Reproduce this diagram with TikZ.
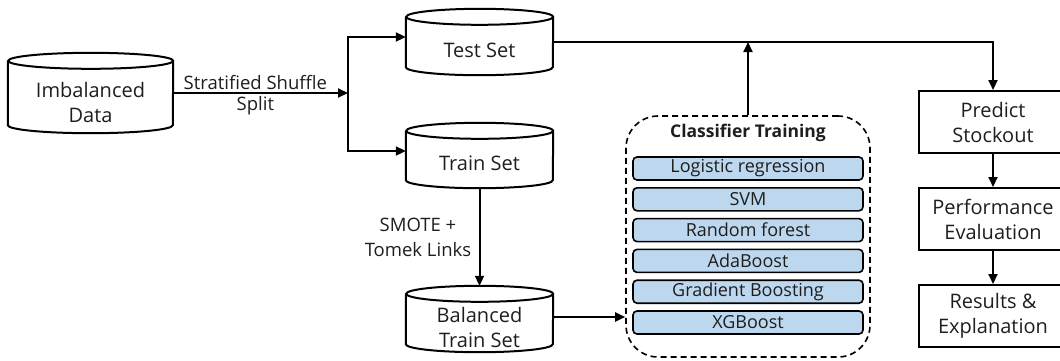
\documentclass[tikz,border=0pt]{standalone}
\usepackage{fontspec}
\setmainfont{Open Sans}
\usetikzlibrary{arrows.meta,calc}
\definecolor{barblue}{HTML}{BDD7EE}
\definecolor{ink}{HTML}{1E1E1E}

% Outline of a database cylinder drawn round an (invisible) rectangular node.
% #1 node name, #2 x radius of the end ellipses
\newcommand\cylinderoutline[2]{%
  \draw[line width=2pt] ([yshift=-8pt]#1.north west) -- ([yshift=8pt]#1.south west)
    arc[start angle=180,end angle=360,x radius=#2,y radius=8pt]
    -- ([yshift=-8pt]#1.north east)
    arc[start angle=0,end angle=180,x radius=#2,y radius=8pt]
    arc[start angle=180,end angle=360,x radius=#2,y radius=8pt];}

\begin{document}
\begin{tikzpicture}[x=1pt,y=-1pt,
  every node/.style={text=ink},
  cylbox/.style={inner sep=0pt},
  cyltext/.style={align=center,font=\fontsize{20}{25}\selectfont},
  procbox/.style={draw,line width=2pt,minimum width=148pt,minimum height=62pt,
    align=center,font=\fontsize{20}{25}\selectfont},
  modelbar/.style={draw,line width=1.6pt,fill=barblue,rounded corners=4pt,
    minimum width=230pt,minimum height=23pt,inner sep=0pt,
    font=\fontsize{18}{20}\selectfont},
  edgelabel/.style={align=center,font=\fontsize{18.5}{25}\selectfont},
  flow/.style={line width=2pt,-{Triangle[length=10pt,width=9pt]}}]

\useasboundingbox (0,0) rectangle (1060,360);

% data stores
\node[cylbox,minimum width=165pt,minimum height=80pt] (imb) at (90.5,93) {};
\node[cylbox,minimum width=147pt,minimum height=66pt] (test) at (479.5,42) {};
\node[cylbox,minimum width=147pt,minimum height=65pt] (train) at (479.5,155.5) {};
\node[cylbox,minimum width=147pt,minimum height=66pt] (bal) at (479.5,319) {};
\cylinderoutline{imb}{82.5pt}
\cylinderoutline{test}{73.5pt}
\cylinderoutline{train}{73.5pt}
\cylinderoutline{bal}{73.5pt}
\node[cyltext] (imblbl) at ([yshift=-9pt]imb.center) {Imbalanced\\Data};
\node[cyltext] (testlbl) at ([yshift=-8pt]test.center) {Test Set};
\node[cyltext] (trainlbl) at ([yshift=-8pt]train.center) {Train Set};
\node[cyltext] (ballbl) at ([yshift=-8pt]bal.center) {Balanced\\Train Set};

% classifier group
\node[draw,dash pattern=on 6pt off 4pt,line width=1.6pt,rounded corners=32pt,
  minimum width=244pt,minimum height=241pt] (cls) at (748,236.5) {};
\node[font=\bfseries\fontsize{17.5}{20}\selectfont] (clstitle) at (748,133) {Classifier Training};
\node[modelbar] (m1) at (748,168.5) {Logistic regression};
\node[modelbar] (m2) at (748,199.3) {SVM};
\node[modelbar] (m3) at (748,230.1) {Random forest};
\node[modelbar] (m4) at (748,260.9) {AdaBoost};
\node[modelbar] (m5) at (748,291.7) {Gradient Boosting};
\node[modelbar] (m6) at (748,322.5) {XGBoost};

% evaluation chain
\node[procbox] (pred) at (993,122) {Predict\\Stockout};
\node[procbox] (perf) at (993,219) {Performance\\Evaluation};
\node[procbox] (res) at (993,316) {Results \&\\Explanation};

% connectors
\coordinate (split) at (348,93);
\draw[flow] (imb.east) -- (split)
  node[edgelabel,pos=0.47,above=-1pt] (sslbl) {Stratified Shuffle}
  node[edgelabel,pos=0.47,below=-1pt] (splitlbl) {Split};
\draw[flow] (split) |- ([yshift=5pt]test.west);
\draw[flow] (split) |- ([yshift=4.5pt]train.west);
\draw[flow] (train.south) -- (bal.north)
  node[edgelabel,midway,left=4pt] (smotelbl) {SMOTE +\\Tomek Links};
\draw[flow] ([yshift=2pt]bal.east) -- ([yshift=2pt]bal.east -| cls.west);
\draw[flow] (cls.north) -- (cls.north |- test.east);
\draw[flow] (test.east) -| (pred.north);
\draw[flow] (pred.south) -- (perf.north);
\draw[flow] (perf.south) -- (res.north);
\end{tikzpicture}
\end{document}
